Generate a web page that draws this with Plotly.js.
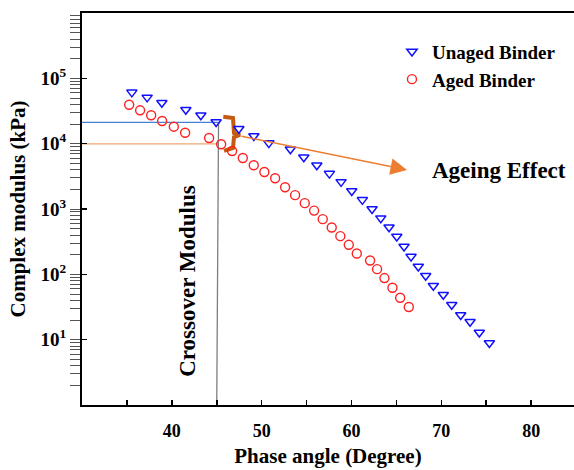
<!DOCTYPE html>
<html>
<head>
<meta charset="utf-8">
<script src="https://cdn.plot.ly/plotly-3.0.1.min.js"></script>
<style>html,body{margin:0;padding:0;background:#fff;}#chart{width:574px;height:470px;}</style>
</head>
<body>
<div id="chart"></div>
<script>
// Unaged binder: phase angle (deg) and complex modulus (kPa)
var unagedPhase = [35.55, 37.25, 38.89, 41.56, 43.23, 44.93, 47.46, 49.13, 50.80, 53.20,
  54.69, 56.14, 57.54, 58.84, 60.03, 61.21, 62.29, 63.26, 64.18, 65.04,
  65.85, 66.63, 67.44, 68.26, 69.11, 70.22, 71.16, 72.16, 73.20, 74.23, 75.35];
var unagedModulus = [61000, 51100, 42300, 33000, 27200, 21400, 16900, 13100, 10200, 8200,
  6190, 4670, 3480, 2600, 1890, 1380, 1000, 724, 527, 379,
  266, 187, 132, 95, 66.8, 48.7, 34.2, 23.8, 18.8, 12.9, 8.9];

// Aged binder
var agedPhase = [35.25, 36.47, 37.70, 38.92, 40.22, 41.48, 44.15, 45.49, 46.71, 47.90,
  49.12, 50.30, 51.50, 52.61, 53.72, 54.80, 55.84, 56.80, 57.80, 58.76,
  59.70, 60.59, 62.07, 62.85, 63.67, 64.56, 65.42, 66.38];
var agedModulus = [39400, 32400, 27200, 22200, 18200, 14700, 12200, 9790, 7730, 6040,
  4670, 3690, 2960, 2150, 1630, 1230, 946, 699, 520, 384,
  283, 208, 163, 120, 87.7, 62.3, 43.8, 31.6];

// Crossover guide lines
var crossoverPhaseTop = 45.2, crossoverPhaseBottom = 45.0;
var unagedCrossModulus = 21200;
var agedCrossModulus = 9960;
var axisStartPhase = 30;
var axisBottomModulus = 1;

// Bracket marking the ageing shift
var bracketPhase = [45.73, 46.81, 46.92, 47.59, 46.92, 46.81, 45.81];
var bracketModulus = [25800, 24700, 14600, 13600, 12600, 8590, 7730];

// Ageing-effect arrow (tail -> head)
var arrowTail = {phase: 47.6, modulus: 13100};
var arrowHead = {phase: 66.18, modulus: 3960};

// Tick labels
var yTickVals = [10, 100, 1000, 10000, 100000];
var yTickText = ['10<sup>1</sup>', '10<sup>2</sup>', '10<sup>3</sup>', '10<sup>4</sup>', '10<sup>5</sup>'];
var xTickVals = [40, 50, 60, 70, 80];
var xTickText = ['40', '50', '60', '70', '80'];

var FONT = 'Liberation Serif, Times New Roman, serif';

var traces = [
  {x: [axisStartPhase, crossoverPhaseTop], y: [unagedCrossModulus, unagedCrossModulus], mode: 'lines',
   line: {color: '#4a7fd6', width: 1.3}, showlegend: false, hoverinfo: 'skip'},
  {x: [axisStartPhase, crossoverPhaseTop], y: [agedCrossModulus, agedCrossModulus], mode: 'lines',
   line: {color: '#f2a46e', width: 1.3}, showlegend: false, hoverinfo: 'skip'},
  {x: [crossoverPhaseTop, crossoverPhaseBottom], y: [unagedCrossModulus, axisBottomModulus], mode: 'lines',
   line: {color: '#7f7f7f', width: 1.3}, showlegend: false, hoverinfo: 'skip'},
  {x: bracketPhase, y: bracketModulus, mode: 'lines',
   line: {color: '#c55a11', width: 4, shape: 'linear'}, showlegend: false, hoverinfo: 'skip'},
  {x: unagedPhase, y: unagedModulus, mode: 'markers', name: 'Unaged Binder',
   marker: {symbol: 'triangle-down-open', size: 9, color: '#1010ff', line: {width: 1.5}}},
  {x: agedPhase, y: agedModulus, mode: 'markers', name: 'Aged Binder',
   marker: {symbol: 'circle-open', size: 9, color: '#ff2020', line: {width: 1.4}}}
];

var layout = {
  width: 574, height: 470,
  margin: {l: 82, r: 0, t: 13, b: 65},
  paper_bgcolor: '#ffffff', plot_bgcolor: '#ffffff',
  font: {family: FONT, color: '#000'},
  showlegend: true,
  legend: {x: 0.63, y: 0.95, xanchor: 'left', yanchor: 'top', bgcolor: 'rgba(0,0,0,0)',
    font: {family: FONT, size: 19, weight: 'bold', color: '#000'}},
  xaxis: {
    range: [30, 84.77], showgrid: false, zeroline: false,
    showline: true, linecolor: '#000', linewidth: 2, mirror: true,
    tickmode: 'array', tickvals: xTickVals, ticktext: xTickText,
    ticks: 'inside', ticklen: 5, tickwidth: 1.5, tickcolor: '#000',
    minor: {dtick: 5, tick0: 0, ticks: 'inside', ticklen: 5, tickwidth: 1.5, tickcolor: '#000', showgrid: false},
    ticklabelstandoff: 8,
    tickfont: {family: FONT, size: 18, weight: 'bold', color: '#000'},
    title: {text: 'Phase angle (Degree)', standoff: 9, font: {family: FONT, size: 21, weight: 'bold', color: '#000'}}
  },
  yaxis: {
    type: 'log', range: [0, 6], showgrid: false, zeroline: false,
    showline: true, linecolor: '#000', linewidth: 2, mirror: false,
    tickmode: 'array', tickvals: yTickVals, ticktext: yTickText,
    ticks: 'inside', ticklen: 5, tickwidth: 1.5, tickcolor: '#000',
    minor: {dtick: 'D1', ticks: 'outside', ticklen: 10, tickwidth: 1, tickcolor: '#555', showgrid: false},
    ticklabelstandoff: 10,
    tickfont: {family: FONT, size: 19, weight: 'bold', color: '#000'},
    title: {text: 'Complex modulus (kPa)', standoff: 9, font: {family: FONT, size: 21, weight: 'bold', color: '#000'}}
  },
  annotations: [
    {x: arrowHead.phase, y: Math.log10(arrowHead.modulus), ax: arrowTail.phase, ay: Math.log10(arrowTail.modulus),
     xref: 'x', yref: 'y', axref: 'x', ayref: 'y', showarrow: true, text: '',
     arrowhead: 2, arrowsize: 2.2, arrowwidth: 1.5, arrowcolor: '#ed7d31', standoff: 0, startstandoff: 0},
    {x: 0.848, y: 0.597, xref: 'paper', yref: 'paper', xanchor: 'center', yanchor: 'middle',
     text: 'Ageing Effect', showarrow: false,
     font: {family: FONT, size: 23, weight: 'bold', color: '#000'}},
    {x: 0.2128, y: 0.316, xref: 'paper', yref: 'paper', xanchor: 'center', yanchor: 'middle',
     text: 'Crossover Modulus', showarrow: false, textangle: -90,
     font: {family: FONT, size: 23, weight: 'bold', color: '#000'}}
  ]
};

Plotly.newPlot('chart', traces, layout, {displayModeBar: false, staticPlot: true});
</script>
</body>
</html>
